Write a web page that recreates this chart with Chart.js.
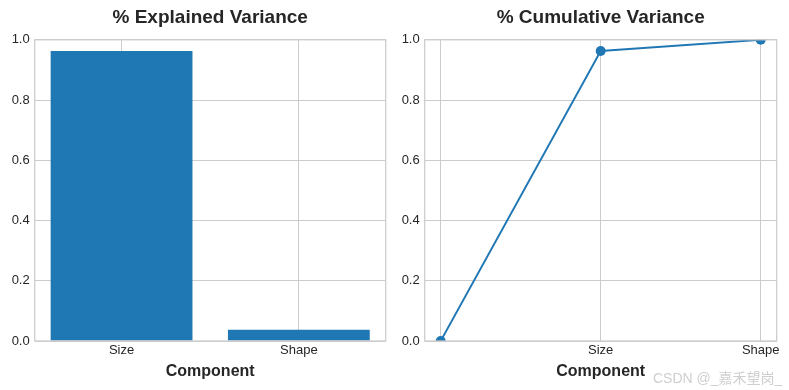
<!DOCTYPE html>
<html>
<head>
<meta charset="utf-8">
<script src="https://cdn.jsdelivr.net/npm/chart.js@4"></script>
<style>
  html, body { margin: 0; padding: 0; background: #fff; }
  #wrap { position: relative; width: 789px; height: 390px; overflow: hidden; }
  canvas { position: absolute; top: 0; }
  #mark {
    position: absolute; left: 653px; top: 367px;
    font: 14px 'Liberation Sans', 'Noto Sans CJK SC', sans-serif;
    color: #cfcfcf; white-space: nowrap; z-index: 2;
  }
</style>
</head>
<body>
<div id="wrap">
  <canvas id="chartExplained" width="395" height="390" style="left:0"></canvas>
  <canvas id="chartCumulative" width="394" height="390" style="left:395px"></canvas>
  <div id="mark">CSDN @_嘉禾望岗_</div>
</div>
<script>
// ── veri ─────────────────────────────────────────
const components      = ['Size', 'Shape'];
const explainedVar    = [0.963, 0.037];
const cumulativeLabels = ['', 'Size', 'Shape'];
const cumulativeVar   = [0, 0.963, 1.0];
const yTicks          = [0, 0.2, 0.4, 0.6, 0.8, 1.0];

const BLUE = '#1f77b4';
const GRID = '#cccccc';
const TXT  = '#262626';

Chart.defaults.font.family = "'Liberation Sans', Arial, sans-serif";
Chart.defaults.color = TXT;

// light grey box round the plot area (matplotlib spines)
const framePlugin = {
  id: 'frame',
  afterDatasetsDraw(chart) {
    const { ctx: c, chartArea: a } = chart;
    c.save();
    c.strokeStyle = GRID;
    c.lineWidth = 1.25;
    c.strokeRect(a.left, a.top, a.right - a.left, a.bottom - a.top);
    c.restore();
  }
};

function baseOptions(title, labels, xMin, xMax, yWidth, rightPad) {
  return {
    responsive: false,
    devicePixelRatio: 1,
    animation: false,
    layout: { padding: { left: 0, right: rightPad, top: 0, bottom: 0 } },
    plugins: {
      legend: { display: false },
      tooltip: { enabled: false },
      title: {
        display: true, text: title, fullSize: false, color: TXT,
        font: { size: 19, weight: 'bold' },
        padding: { top: 6.5, bottom: 10.5 }
      }
    },
    scales: {
      x: {
        type: 'linear', min: xMin, max: xMax, offset: false,
        afterBuildTicks: s => { s.ticks = labels.map((_, i) => ({ value: i })); },
        afterFit: s => { s.height = 49; },
        ticks: { padding: 2, font: { size: 13 }, color: TXT,
                 callback: v => labels[v] ?? '' },
        grid: { color: GRID, lineWidth: 1, drawTicks: false, offset: false },
        border: { display: false },
        title: { display: true, text: 'Component', color: TXT,
                 font: { size: 16, weight: 'bold' }, padding: { top: 0, bottom: 9 } }
      },
      y: {
        min: 0, max: 1,
        afterBuildTicks: s => { s.ticks = yTicks.map(v => ({ value: v })); },
        afterFit: s => { s.width = yWidth; },
        ticks: { padding: 5, font: { size: 13 }, color: TXT,
                 callback: v => v.toFixed(1) },
        grid: { color: GRID, lineWidth: 1, drawTicks: false },
        border: { display: false }
      }
    }
  };
}

// ── sol: açıklanan varyans ───────────────────────
new Chart(document.getElementById('chartExplained'), {
  type: 'bar',
  data: {
    datasets: [{
      data: explainedVar.map((v, i) => ({ x: i, y: v })),
      backgroundColor: BLUE,
      borderWidth: 0,
      barPercentage: 0.8,
      categoryPercentage: 1
    }]
  },
  options: baseOptions('% Explained Variance', components, -0.49, 1.49, 34.7, 9.3),
  plugins: [framePlugin]
});

// ── sağ: kümülatif varyans ───────────────────────
new Chart(document.getElementById('chartCumulative'), {
  type: 'line',
  data: {
    datasets: [{
      data: cumulativeVar.map((v, i) => ({ x: i, y: v })),
      borderColor: BLUE,
      backgroundColor: BLUE,
      borderWidth: 1.9,
      pointRadius: 5,
      pointBorderWidth: 0,
      tension: 0,
      fill: false,
      clip: 0
    }]
  },
  options: baseOptions('% Cumulative Variance', cumulativeLabels, -0.1, 2.1, 29.7, 12.3),
  plugins: [framePlugin]
});
</script>
</body>
</html>
